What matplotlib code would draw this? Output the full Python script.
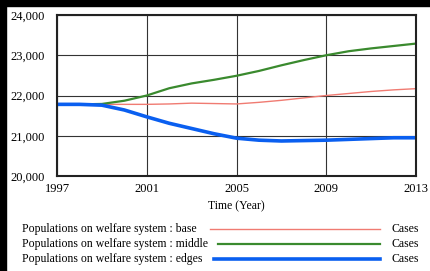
import numpy as np
import matplotlib.pyplot as plt
from matplotlib.patches import Rectangle

years = [1997, 1998, 1999, 2000, 2001, 2002, 2003, 2004, 2005,
         2006, 2007, 2008, 2009, 2010, 2011, 2012, 2013]
base = [21780, 21780, 21780, 21780, 21780, 21790, 21810, 21800, 21790,
        21830, 21880, 21940, 22000, 22050, 22100, 22140, 22170]
middle = [21780, 21780, 21790, 21870, 22000, 22180, 22300, 22390, 22490,
          22610, 22750, 22880, 23000, 23100, 23170, 23230, 23290]
edges = [21780, 21780, 21760, 21640, 21470, 21310, 21180, 21050, 20940,
         20890, 20870, 20880, 20890, 20910, 20930, 20950, 20950]

labels = ["Populations on welfare system : base",
          "Populations on welfare system : middle",
          "Populations on welfare system : edges"]
colors = ["#f07b72", "#3a8a2e", "#0a5ff0"]
widths = [1.0, 1.6, 2.6]

plt.rcParams['font.family'] = ['Liberation Serif', 'DejaVu Serif']

fig = plt.figure(figsize=(4.30, 2.71), dpi=100)
W, H = 430, 271
ax = fig.add_axes([57 / W, 1 - 176 / H, (416 - 57) / W, (176 - 15) / H])

for ys, c, lw in zip([base, middle, edges], colors, widths):
    ax.plot(years, ys, color=c, lw=lw, solid_capstyle='butt')

ax.set_xlim(1997, 2013)
ax.set_ylim(20000, 24000)
ax.set_xticks([1997, 2001, 2005, 2009, 2013])
ax.set_yticks([20000, 21000, 22000, 23000, 24000])
ax.set_yticklabels(["20,000", "21,000", "22,000", "23,000", "24,000"])
ax.grid(True, color='#333333', lw=0.8)
ax.tick_params(length=0, labelsize=9)
ax.tick_params(axis='y', pad=9)
ax.tick_params(axis='x', pad=5)
for s in ax.spines.values():
    s.set_color('#222222')
    s.set_linewidth(1.5)
ax.set_axisbelow(True)

fig.text(236 / W, 1 - 206 / H, "Time (Year)", ha='center', va='center', fontsize=8.5)

rows = [229, 244, 259]
line_x = [(210, 380), (218, 380), (214, 380)]
for lab, c, lw, yy, (x0, x1) in zip(labels, colors, widths, rows, line_x):
    fig.text(22 / W, 1 - yy / H, lab, ha='left', va='center', fontsize=8.5)
    fig.add_artist(plt.Line2D([x0 / W, x1 / W], [1 - yy / H, 1 - yy / H],
                              color=c, lw=lw, transform=fig.transFigure))
    fig.text(392 / W, 1 - yy / H, "Cases", ha='left', va='center', fontsize=8.5)

# black frame strips at top and left
fig.patches.append(Rectangle((0, 1 - 6 / H), 1, 6 / H, transform=fig.transFigure,
                             color='black', zorder=10))
fig.patches.append(Rectangle((0, 0), 6 / W, 1, transform=fig.transFigure,
                             color='black', zorder=10))

fig.savefig("out.png", dpi=100)
